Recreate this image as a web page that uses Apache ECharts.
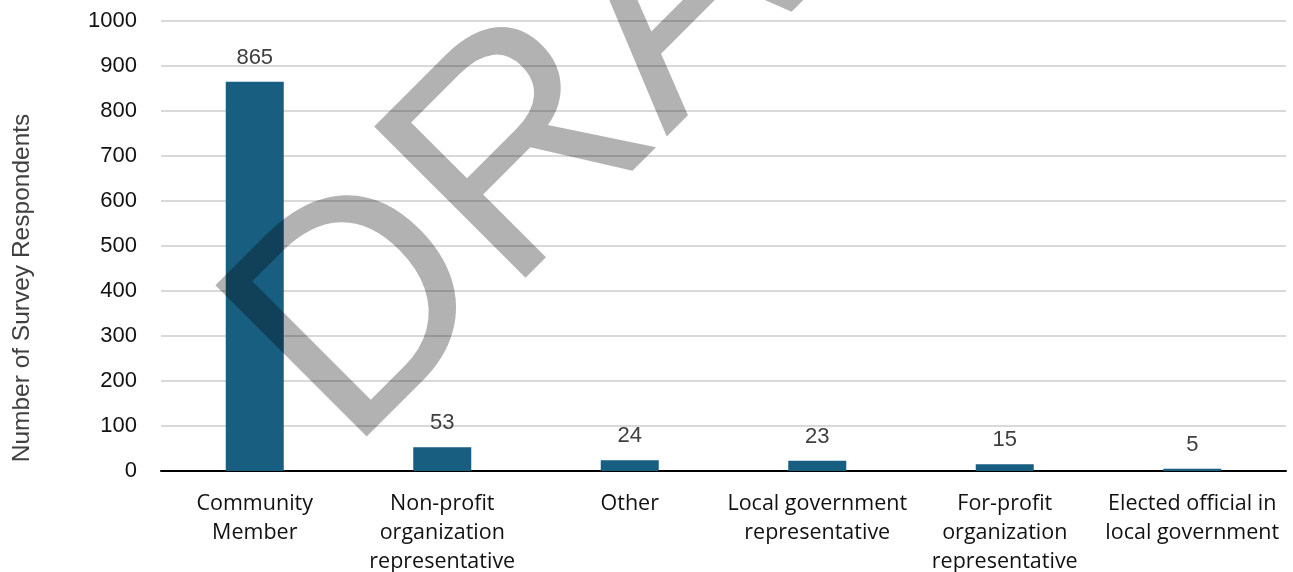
<!DOCTYPE html>
<html><head><meta charset="utf-8">
<script src="https://cdn.jsdelivr.net/npm/echarts@6/dist/echarts.min.js"></script>
<style>html,body{margin:0;padding:0;background:#fff}#c{width:1293px;height:572px}</style>
</head><body><div id="c"></div>
<script>
const categories = ["Community\nMember","Non-profit\norganization\nrepresentative","Other","Local government\nrepresentative","For-profit\norganization\nrepresentative","Elected official in\nlocal government"];
const respondents = [865, 53, 24, 23, 15, 5];
const yMin = 0, yMax = 1000, yStep = 100;
const axisTitle = "Number of Survey Respondents";
const watermark = "DRAFT";

const chart = echarts.init(document.getElementById('c'), null, {renderer:'canvas'});
chart.setOption({
  animation:false,
  backgroundColor:'#fff',
  grid:{left:161, right:7, top:21, bottom:101, containLabel:false, outerBoundsMode:'none'},
  xAxis:{type:'category', data:categories,
    axisLine:{lineStyle:{color:'#000', width:2}},
    axisTick:{show:false},
    axisLabel:{interval:0, margin:18, fontFamily:'Open Sans', fontSize:21.5, lineHeight:29, color:'#111'}},
  yAxis:{type:'value', min:yMin, max:yMax, interval:yStep,
    axisLine:{show:false}, axisTick:{show:false},
    splitLine:{lineStyle:{color:'#d9d9d9', width:2}},
    axisLabel:{margin:24, fontFamily:'Liberation Sans', fontSize:22, color:'#111', formatter:function(v){return String(v);}}},
  series:[{type:'bar', data:respondents, barWidth:58,
    itemStyle:{color:'#175e80'},
    label:{show:true, position:'top', distance:13, fontFamily:'Liberation Sans', fontSize:22, color:'#404040'}}],
  graphic:[
    {type:'text', x:22, y:288, rotation:Math.PI/2, z:10,
      style:{text:axisTitle, fontFamily:'Liberation Sans', fontSize:24.5, fill:'#404040', align:'center', verticalAlign:'middle'}},
    {type:'text', x:288, y:394, rotation:Math.PI/4, z:100, silent:true,
      style:{text:watermark, fontFamily:'Liberation Sans', fontSize:311, fill:'rgba(0,0,0,0.3)', align:'left', verticalAlign:'middle'}}
  ]
});
</script></body></html>
